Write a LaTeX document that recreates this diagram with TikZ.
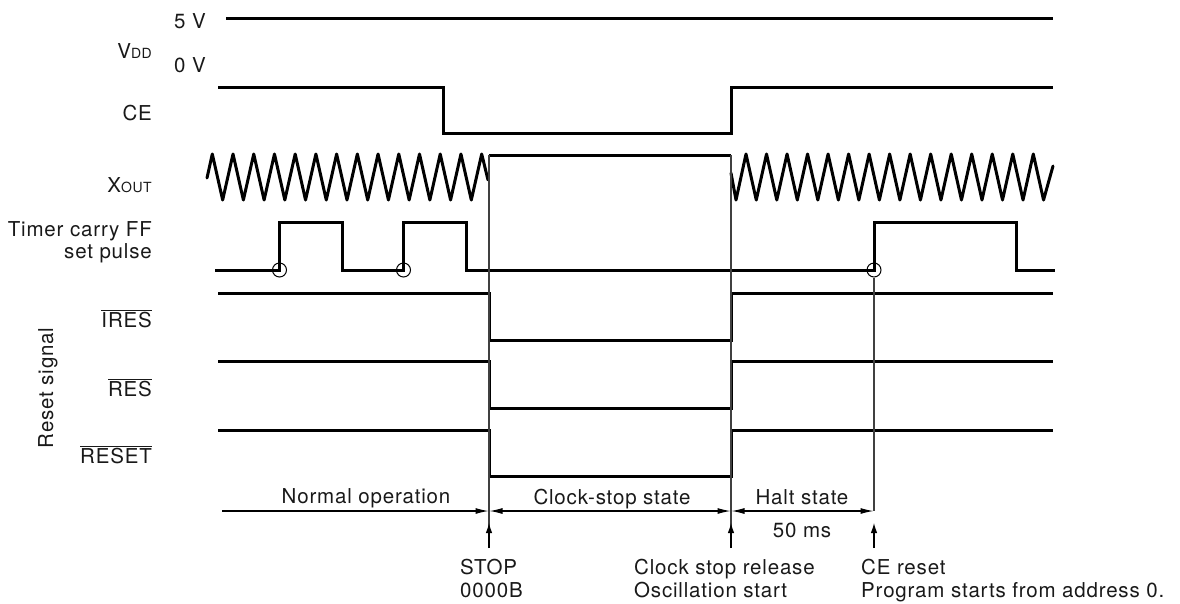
\documentclass[tikz,border=0pt]{standalone}
\usepackage{fontspec}
\setmainfont{TeX Gyre Heros}[LetterSpace=4]
\usetikzlibrary{arrows.meta}
\tikzset{
  sig/.style={line width=3pt, line join=miter, line cap=butt},
  zig/.style={line width=3pt, line join=round, line cap=round},
  thinline/.style={line width=1.2pt, black!75},
  dim/.style={line width=1.1pt},
  lbl/.style={inner sep=0pt, text=black!90, font=\fontsize{20.5}{24}\selectfont},
  dtip/.tip={Latex[length=13pt,width=6pt]},
  utip/.tip={Latex[length=10pt,width=6.5pt]},
  ring/.style={draw, line width=1pt, circle, minimum size=14pt, inner sep=0pt}
}
\newcommand{\sub}[1]{{\fontsize{14}{16}\selectfont #1}}
\begin{document}
\begin{tikzpicture}[x=1pt,y=-1pt]
\useasboundingbox (0,0) rectangle (1180,603);
% left labels
\node[lbl, anchor=base west] (l5v) at (174,28) {5 V};
\node[lbl, anchor=base east] (lvdd) at (152,58) {V\sub{DD}};
\node[lbl, anchor=base west] (l0v) at (174,72) {0 V};
\node[lbl, anchor=base east] (lce) at (152,120) {CE};
\node[lbl, anchor=base east] (lxout) at (152,192) {X\sub{OUT}};
\node[lbl, anchor=base east] (ltim1) at (152,236) {Timer carry FF};
\node[lbl, anchor=base east] (ltim2) at (152,258) {set pulse};
\node[lbl, anchor=base east] (lires) at (152,327) {$\overline{\mbox{IRES}}$};
\node[lbl, anchor=base east] (lres) at (152,396) {$\overline{\mbox{RES}}$};
\node[lbl, anchor=base east] (lreset) at (152,463) {$\overline{\mbox{RESET}}$};
\node[lbl, anchor=base, rotate=90] (lrs) at (53,388) {Reset signal};
% VDD
\draw[sig] (226,18) -- (1053,18);
% CE
\draw[sig] (218,87) -- (443,87) -- (443,133) -- (731,133) -- (731,87) -- (1053,87);
% XOUT
\draw[zig] (207,178) \foreach \k in {0,...,12} { -- ({212.3+20.72*\k},154) -- ({222.66+20.72*\k},200) } -- (481.7,154) -- (488,180);
\draw[sig] (489,155) -- (731,155);
\draw[zig] (731,173) -- (736,200) \foreach \k in {0,...,14} { -- ({746+20.52*\k},154) -- ({756.26+20.52*\k},200) } -- (1053,166);
% timer carry
\draw[sig] (215,270) -- (279,270) -- (279,222) -- (342,222) -- (342,270) -- (403,270) -- (403,222) -- (466,222) -- (466,270) -- (874,270) -- (874,222) -- (1016,222) -- (1016,270) -- (1055,270);
\node[ring] (c1) at (279.5,270) {};
\node[ring] (c2) at (403.5,270) {};
\node[ring] (c3) at (874,270) {};
% reset signals
\draw[sig] (218,293) -- (489,293) -- (489,340) -- (731,340) -- (731,293) -- (1053,293);
\draw[sig] (218,361.5) -- (489,361.5) -- (489,408) -- (731,408) -- (731,361.5) -- (1053,361.5);
\draw[sig] (218,430) -- (489,430) -- (489,476) -- (731,476) -- (731,430) -- (1053,430);
% marker lines
\coordinate (m1t) at (489,155);
\coordinate (m2t) at (731,155);
\coordinate (m1b) at (489,548);
\coordinate (m2b) at (731,548);
\coordinate (m3b) at (874,548);
\coordinate (d0) at (222,511);
\coordinate (d1) at (489,511);
\coordinate (d2) at (731,511);
\coordinate (d3) at (874,511);
\draw[thinline] (m1t) -- (m1b);
\draw[thinline] (m2t) -- (m2b);
\draw[thinline] (c3.south) -- (d3);
\draw[dim, -utip] (m1b) -- (489,523);
\draw[dim, -utip] (m2b) -- (731,523);
\draw[dim, -utip] (m3b) -- (874,523);
% dimension arrows
\draw[dim, -dtip] (d0) -- ([xshift=-0.5pt]d1);
\draw[dim, dtip-dtip] ([xshift=0.5pt]d1) -- ([xshift=-0.5pt]d2);
\draw[dim, dtip-dtip] ([xshift=0.5pt]d2) -- ([xshift=-0.5pt]d3);
\node[lbl, anchor=base] (tno) at (366,503) {Normal operation};
\node[lbl, anchor=base] (tcs) at (612,504) {Clock-stop state};
\node[lbl, anchor=base] (ths) at (802,504) {Halt state};
\node[lbl, anchor=base] (t50) at (802,537) {50 ms};
% bottom texts
\node[lbl, anchor=base west] (tstop) at (460,574) {STOP};
\node[lbl, anchor=base west] (t0000) at (460,597) {0000B};
\node[lbl, anchor=base west] (tcsr) at (634,574) {Clock stop release};
\node[lbl, anchor=base west] (tosc) at (634,597) {Oscillation start};
\node[lbl, anchor=base west] (tce) at (861,574) {CE reset};
\node[lbl, anchor=base west] (tprog) at (861,597) {Program starts from address 0.};
\end{tikzpicture}
\end{document}
